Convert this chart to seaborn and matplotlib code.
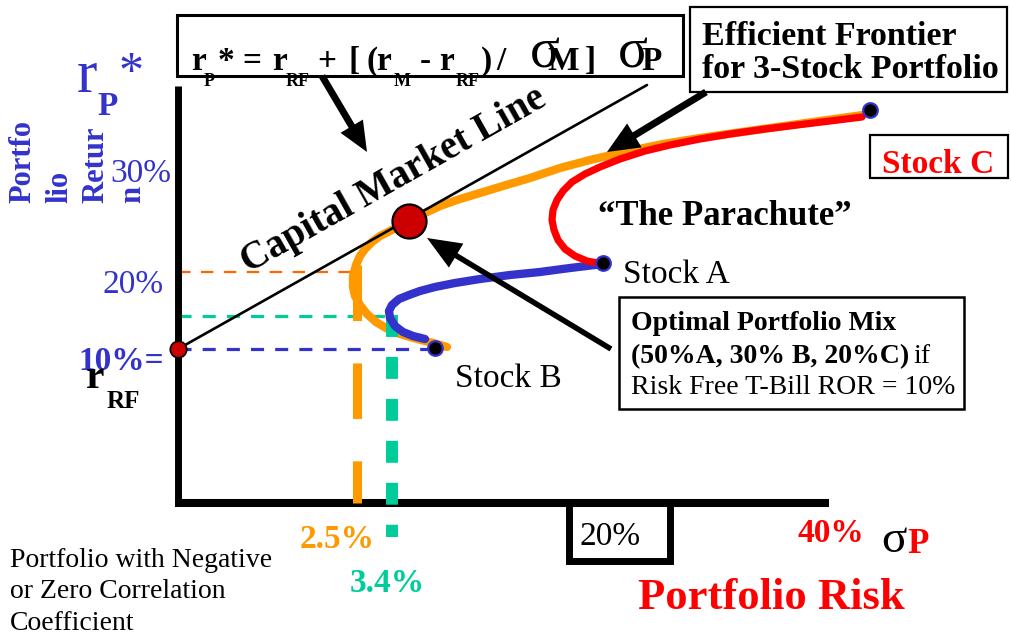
import matplotlib
matplotlib.use("Agg")
import matplotlib.pyplot as plt
import seaborn as sns
from matplotlib.patches import Rectangle

# ---------------- data (diagram units: x = risk axis, y = return axis, screen oriented) ----------------
# 3-stock efficient frontier (orange), from Stock B up to Stock C
frontier_x = [447, 437, 425, 410, 397, 386, 376, 367, 360, 355, 353, 353, 356, 360, 365, 372, 380, 390,
              409, 425, 440, 460, 480, 503, 530, 560, 590, 620, 663, 700, 763, 820, 863]
frontier_y = [347, 344, 341, 337, 333, 328, 322, 314, 305, 296, 287, 276, 265, 256, 249, 242, 236, 231,
              221, 213, 206, 199, 193, 186, 178, 168, 160, 153, 144, 138, 129, 121, 115]
# A-C "parachute" (red)
ac_x = [603, 587, 575, 565, 558, 554, 552, 553, 557, 563, 572, 585, 600, 620, 645, 670, 700, 730, 765, 797, 830, 862]
ac_y = [264, 261, 256, 249, 240, 230, 220, 210, 200, 191, 182, 174, 167, 159, 151, 145, 139, 134, 129, 125, 121, 117]
# A-B combination (blue)
ab_x = [425, 413, 403, 395, 390, 389, 392, 399, 409, 420, 435, 455, 480, 510, 540, 570, 603]
ab_y = [339, 336, 332, 326, 318, 311, 305, 299, 295, 291, 287, 283, 279, 275, 272, 268, 264]
# capital market line
cml_x = [178, 647]
cml_y = [349, 85]
# stocks
stock_names = ["Stock A", "Stock B", "Stock C"]
stock_x = [603, 435, 870]
stock_y = [263, 348, 110]
# risk-free point and tangency (optimal) portfolio
rf_x, rf_y = [178], [349]
opt_x, opt_y = [409], [221]
# reference guides (returns and risks)
guide_ret_y = [272, 316, 349]
guide_ret_xend = [353, 392, 432]
guide_risk_x = [357.5, 392]
guide_risk_ytop = [265, 315]
guide_risk_ybot = [503, 537]

BLUE = "#3333CC"
ORANGE = "#FF9900"
RED = "#FF0000"
GREEN = "#00CC99"
DRED = "#CC0000"

sns.set_style("white")
plt.rcParams["font.family"] = ["Liberation Serif", "DejaVu Serif"]
plt.rcParams["text.color"] = "black"
plt.rcParams["lines.scale_dashes"] = False

fig = plt.figure(figsize=(10.12, 6.36), dpi=100)
ax = fig.add_axes([0, 0, 1, 1])
ax.set_xlim(0, 1012)
ax.set_ylim(636, 0)
ax.set_xticks([])
ax.set_yticks([])
for s in ["top", "right"]:
    ax.spines[s].set_visible(False)
ax.spines["left"].set_position(("data", 178))
ax.spines["left"].set_bounds(86, 506)
ax.spines["left"].set_linewidth(5.0)
ax.spines["left"].set_color("black")
ax.spines["left"].set_capstyle("butt")
ax.spines["bottom"].set_position(("data", 502.5))
ax.spines["bottom"].set_bounds(175, 829)
ax.spines["bottom"].set_linewidth(5.8)
ax.spines["bottom"].set_color("black")
ax.spines["bottom"].set_capstyle("butt")

line_kw = dict(ax=ax, sort=False, estimator=None, solid_capstyle="round", solid_joinstyle="round")

# guides
sns.lineplot(x=[178, guide_ret_xend[0]], y=[guide_ret_y[0]] * 2, ax=ax, sort=False, estimator=None,
             color="#FF6600", linewidth=1.6, linestyle=(0, (9, 7.5)), zorder=2)
sns.lineplot(x=[178, guide_ret_xend[1]], y=[guide_ret_y[1]] * 2, ax=ax, sort=False, estimator=None,
             color=GREEN, linewidth=2.3, linestyle=(0, (9.4, 8)), zorder=2)
sns.lineplot(x=[178, guide_ret_xend[2]], y=[guide_ret_y[2]] * 2, ax=ax, sort=False, estimator=None,
             color=BLUE, linewidth=2.3, linestyle=(0, (9.4, 8)), zorder=2)

# curves
sns.lineplot(x=frontier_x, y=frontier_y, color=ORANGE, linewidth=6, zorder=3, **line_kw)
sns.lineplot(x=guide_risk_x[:1] * 2, y=[guide_risk_ytop[0], guide_risk_ybot[0]], ax=ax, sort=False,
             estimator=None, color=ORANGE, linewidth=6.5, linestyle=(0, (40, 30.5)),
             dash_capstyle="butt", zorder=3.5)
sns.lineplot(x=guide_risk_x[1:] * 2, y=[guide_risk_ytop[1], guide_risk_ybot[1]], ax=ax, sort=False,
             estimator=None, color=GREEN, linewidth=8.6, linestyle=(0, (15.8, 14.4)),
             dash_capstyle="butt", zorder=3.6)
sns.lineplot(x=ab_x, y=ab_y, color=BLUE, linewidth=6, zorder=4, **line_kw)
sns.lineplot(x=ac_x, y=ac_y, color=RED, linewidth=5.2, zorder=4, **line_kw)
sns.lineplot(x=cml_x, y=cml_y, ax=ax, sort=False, estimator=None, color="black", linewidth=1.9, zorder=5)

# points
sns.scatterplot(x=stock_x, y=stock_y, ax=ax, s=110, color="black", edgecolor=BLUE, linewidth=1.6, zorder=8)
sns.scatterplot(x=rf_x, y=rf_y, ax=ax, s=140, color=DRED, edgecolor="black", linewidth=1.2, zorder=8)
sns.scatterplot(x=opt_x, y=opt_y, ax=ax, s=600, color=DRED, edgecolor="black", linewidth=1.6, zorder=8)

# arrows
arr = dict(color="black", length_includes_head=True, lw=0, zorder=7)
ax.arrow(322, 76, 367 - 322, 152 - 76, width=7, head_width=26, head_length=30, **arr)
ax.arrow(706, 92, 607 - 706, 152 - 92, width=7, head_width=28, head_length=32, **arr)
ax.arrow(611, 349, 427 - 611, 238 - 349, width=5.5, head_width=28, head_length=34, **arr)

# boxes
for (x0, y0, x1, y1, lw) in [(177, 15, 683, 76, 2.2), (690, 7, 1007, 92, 1.6), (870, 135, 1008, 178, 1.6),
                             (619, 297, 964, 409, 1.8)]:
    ax.add_patch(Rectangle((x0, y0), x1 - x0, y1 - y0, fill=True, facecolor="white",
                           edgecolor="black", linewidth=lw, zorder=6))
ax.add_patch(Rectangle((569.5, 503), 101, 57.5, fill=False, edgecolor="black", linewidth=5.0, zorder=6))

# formula text
T = dict(zorder=9, va="baseline", ha="left", fontweight="bold", color="black")
main, sub = 24, 13
pieces = [("r", 191, 70, main), ("P", 204, 86, sub), ("*", 218, 70, main), ("=", 242, 70, main),
          ("r", 272, 70, main), ("RF", 286, 86, sub), ("+", 317, 70, main), ("[", 349, 70, main),
          ("(", 367, 70, main), ("r", 376, 70, main), ("M", 394, 86, sub), ("-", 420, 70, main),
          ("r", 439, 70, main), ("RF", 456, 86, sub), (")", 481, 70, main), ("/", 496, 70, main),
          ("M", 547, 70, main), ("]", 585, 70, main), ("P", 641, 70, main)]
for t, x, y, fs in pieces:
    ax.text(x, y, t, fontsize=fs, **T)
for x in (530, 618):
    ax.text(x, 67, "σ", fontsize=40, ha="left", va="baseline", color="black", zorder=9)

# other labels
def txt(x, y, s, fs, color="black", weight="normal", **kw):
    kw.setdefault("ha", "left")
    kw.setdefault("va", "baseline")
    ax.text(x, y, s, fontsize=fs, color=color, fontweight=weight, zorder=9, **kw)

txt(702, 45, "Efficient Frontier", 24.5, weight="bold")
txt(702, 78, "for 3-Stock Portfolio", 24.5, weight="bold")
txt(882, 173, "Stock C", 24, color=RED, weight="bold")
txt(598, 225, "\u201cThe Parachute\u201d", 25, weight="bold")
txt(623, 283, "Stock A", 24)
txt(455, 387, "Stock B", 24)
txt(631, 330, "Optimal Portfolio Mix", 20, weight="bold")
txt(631, 363, "(50%A, 30% B, 20%C)", 20, weight="bold")
txt(913, 363, "if", 20)
txt(631, 394, "Risk Free T-Bill ROR = 10%", 20)
ax.text(394, 180, "Capital Market Line", fontsize=28, fontweight="bold", rotation=29.4, color="black",
        rotation_mode="anchor", ha="center", va="center", zorder=9)

# y-axis labels
txt(77, 92, "r", 44, color=BLUE)
txt(97, 115, "P", 24, color=BLUE, weight="bold")
txt(119, 86, "*", 36, color=BLUE)
for s, xc in [("Portfo", 23), ("lio", 60), ("Retur", 96), ("n", 133)]:
    ax.text(xc, 203, s, fontsize=22, fontweight="bold", color=BLUE, rotation=90,
            rotation_mode="anchor", ha="left", va="center", zorder=9)
txt(110, 182, "30%", 24, color=BLUE)
txt(103, 293, "20%", 24, color=BLUE)
txt(78, 370, "10%=", 24, color=BLUE, weight="bold")
txt(86, 388, "r", 30, weight="bold")
txt(107, 408, "RF", 18, weight="bold")

# x-axis labels
txt(300, 548, "2.5%", 24, color=ORANGE, weight="bold")
txt(350, 592, "3.4%", 24, color=GREEN, weight="bold")
txt(580, 545, "20%", 24)
txt(798, 542, "40%", 24, color=RED, weight="bold")
txt(881, 552, "σ", 34)
txt(907, 553, "P", 25, color=RED, weight="bold")
txt(638, 609, "Portfolio Risk", 32, color=RED, weight="bold")
txt(10, 567, "Portfolio with Negative", 20)
txt(10, 598, "or Zero Correlation", 20)
txt(10, 630, "Coefficient", 20)

fig.savefig("out.png", dpi=100)
